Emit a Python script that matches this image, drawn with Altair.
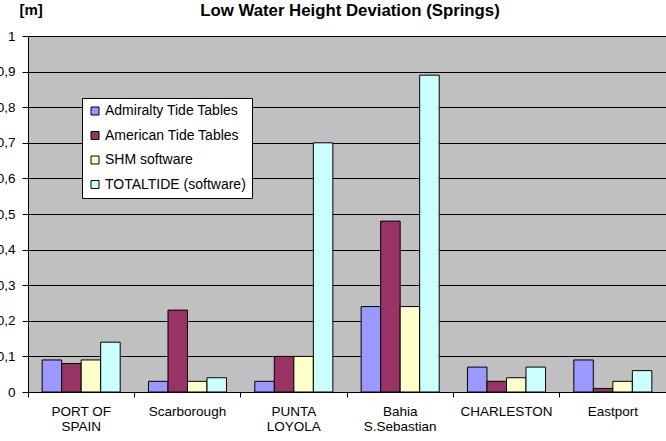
import altair as alt
import pandas as pd

categories = ["PORT OF\nSPAIN", "Scarborough", "PUNTA\nLOYOLA", "Bahia\nS.Sebastian", "CHARLESTON", "Eastport"]
series = ["Admiralty Tide Tables", "American Tide Tables", "SHM software", "TOTALTIDE (software)"]
admiralty = [0.09, 0.03, 0.03, 0.24, 0.07, 0.09]
american = [0.08, 0.23, 0.10, 0.48, 0.03, 0.01]
shm = [0.09, 0.03, 0.10, 0.24, 0.04, 0.03]
totaltide = [0.14, 0.04, 0.70, 0.89, 0.07, 0.06]
colors = ["#9999FF", "#993366", "#FFFFCC", "#CCFFFF"]
y_ticks = [0, 0.1, 0.2, 0.3, 0.4, 0.5, 0.6, 0.7, 0.8, 0.9, 1.0]

rows = []
for s, vals in zip(series, [admiralty, american, shm, totaltide]):
    for c, v in zip(categories, vals):
        rows.append({"category": c, "series": s, "value": v})
df = pd.DataFrame(rows)

FONT = "Liberation Sans"

chart = alt.Chart(df).mark_bar(stroke="black", strokeWidth=1).encode(
    x=alt.X("category:N", sort=categories,
            scale=alt.Scale(paddingInner=0, paddingOuter=0),
            axis=alt.Axis(title=None, bandPosition=0, labelAngle=0,
                          labelExpr="split(datum.label, '\\n')", labelLineHeight=15,
                          labelFontSize=13.5, labelPadding=7, tickSize=5, grid=False,
                          labelBaseline="top", labelOverlap=False, labelBound=False)),
    xOffset=alt.XOffset("series:N", sort=series,
                        scale=alt.Scale(paddingOuter=0.725, paddingInner=0)),
    y=alt.Y("value:Q", scale=alt.Scale(domain=[0, 1], nice=False),
            axis=alt.Axis(values=y_ticks, title="[m]", titleAngle=0, titleAlign="left",
                          titleX=-9, titleY=-27, titleBaseline="middle",
                          titleFontWeight="bold", titleFontSize=15,
                          labelExpr="replace(format(datum.value, '.1~f'), '.', ',')",
                          labelFontSize=13.5, labelPadding=7, tickSize=6, grid=True)),
    color=alt.Color("series:N", sort=series,
                    scale=alt.Scale(domain=series, range=colors),
                    legend=alt.Legend(title=None, orient="none", legendX=54, legendY=62,
                                      fillColor="white", strokeColor="black", padding=6,
                                      symbolType="square", symbolSize=64,
                                      symbolStrokeColor="black", symbolStrokeWidth=1,
                                      labelFontSize=14, rowPadding=10.5, labelOffset=3)),
).properties(
    width=638, height=356,
    title=alt.TitleParams("Low Water Height Deviation (Springs)", fontSize=16.8,
                          fontWeight="bold", anchor="middle", offset=0, dy=31,
                          dx=3, baseline="alphabetic", font=FONT, color="black"),
    autosize=alt.AutoSizeParams(type="none"),
    padding={"left": 28, "top": 36, "right": 0, "bottom": 49},
    background="white",
).configure_view(
    fill="#C0C0C0", strokeWidth=0
).configure_axis(
    domainColor="black", tickColor="black", gridColor="black", gridOpacity=1,
    labelColor="black", titleColor="black", labelFont=FONT, titleFont=FONT
).configure_legend(
    labelFont=FONT, labelColor="black"
)

chart.save("out.html", embed_options={"renderer": "svg", "actions": False})
